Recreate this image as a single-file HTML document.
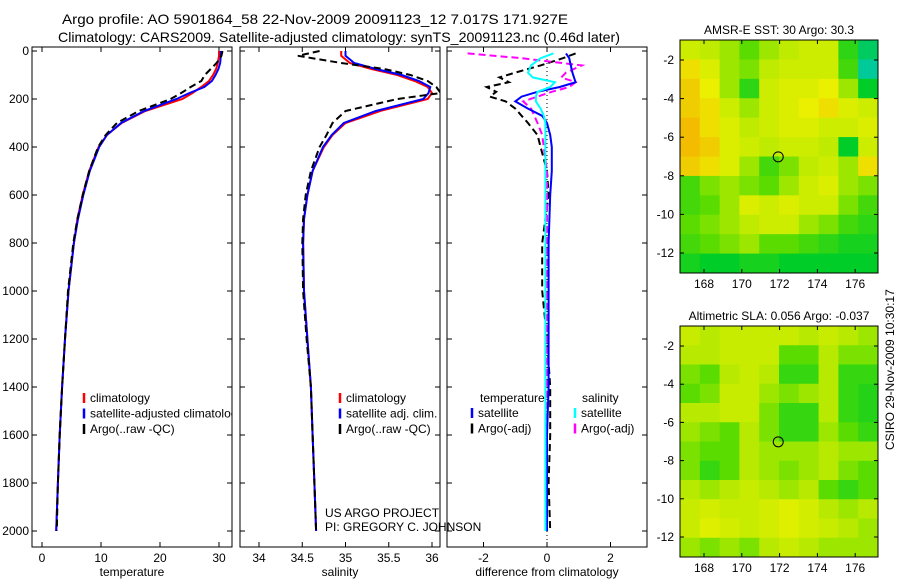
<!DOCTYPE html>
<html><head><meta charset="utf-8"><style>
body{margin:0;background:#fff;width:900px;height:580px;overflow:hidden;font-family:"Liberation Sans",sans-serif}
svg text{font-family:"Liberation Sans",sans-serif;font-size:12px;fill:#000}
</style></head><body>
<svg id="fig" width="900" height="580">
<text x="62" y="24" font-size="14" textLength="506" lengthAdjust="spacingAndGlyphs" style="font-size:14px">Argo profile: AO 5901864_58 22-Nov-2009 20091123_12 7.017S 171.927E</text>
<text x="58" y="42" font-size="14" textLength="562" lengthAdjust="spacingAndGlyphs" style="font-size:14px">Climatology: CARS2009. Satellite-adjusted climatology: synTS_20091123.nc (0.46d later)</text>
<g id="g"></g>
<text transform="translate(894,450) rotate(-90)" font-size="12">CSIRO 29-Nov-2009 10:30:17</text>
<text x="325" y="517">US ARGO PROJECT</text>
<text x="325" y="531">PI: GREGORY C. JOHNSON</text>
</svg>
<script>
// ---- data ----
const depths=[0,20,50,75,100,125,150,175,200,250,300,350,400,500,600,700,800,1000,1200,1400,1600,1800,2000];
const tempClim=[30,30,29.8,29.5,29,28.3,27,25.5,23.8,17.5,13.5,11.0,9.6,8.0,6.9,6.0,5.4,4.5,3.9,3.4,3,2.7,2.4];
const tempSat=[30.3,30.3,30.2,29.9,29.4,28.8,27.5,25,22.8,17.3,13.4,11.0,9.7,8.1,7.0,6.1,5.4,4.5,3.9,3.4,3,2.7,2.4];
const tempArgo=[30.6,30.4,29.6,28.6,27.6,27,25.2,23.6,21.8,16.4,12.7,10.8,9.5,8.0,6.9,6.0,5.3,4.4,3.9,3.4,3,2.7,2.5];
const salClim=[34.95,34.95,35.05,35.3,35.6,35.8,35.95,36.0,35.95,35.4,35.0,34.85,34.75,34.62,34.56,34.52,34.51,34.52,34.56,34.6,34.62,34.64,34.66];
const salSat=[35.0,35.0,35.1,35.35,35.65,35.85,35.98,35.96,35.9,35.35,34.98,34.84,34.74,34.62,34.56,34.52,34.51,34.52,34.56,34.6,34.62,34.64,34.66];
const salArgo=[34.7,34.45,34.95,35.45,35.75,35.95,36.05,36.1,35.6,35.0,34.85,34.78,34.7,34.6,34.54,34.51,34.5,34.51,34.55,34.6,34.62,34.64,34.66];
const dDepths=[10,30,60,90,110,130,150,170,190,210,240,270,300,350,400,450,500,600,800,1000,1200,1400,1600,1800,2000];
const dTempArgo=[0.9,0.5,-0.2,-1.0,-1.5,-1.2,-1.9,-1.6,-1.8,-1.3,-1.0,-0.8,-0.6,-0.3,-0.2,-0.1,0,0.05,-0.15,-0.15,0,0.1,0.1,0.05,0.1];
const dTempSat=[0.6,0.7,0.75,0.8,0.85,0.9,0.4,-0.3,-0.8,-1.0,-0.6,-0.15,0,0.1,0.15,0.15,0.15,0.1,0.05,0.05,0.05,0.05,0,0,0];
const dSalSat=[0.2,-0.2,-0.5,-0.6,-0.45,0.25,0.1,-0.3,-0.35,-0.35,-0.2,-0.1,-0.05,-0.05,-0.05,-0.05,-0.05,-0.05,-0.05,-0.05,-0.05,-0.05,-0.05,-0.05,-0.05];
const dSalArgo=[-2.5,-0.8,1.1,0.6,0.45,0.9,0.7,0.15,-0.3,-0.75,-0.5,-0.4,-0.3,-0.15,-0.1,-0.05,0,0,0,0,0,0,0,0,0];
const depthTicks=[0,200,400,600,800,1000,1200,1400,1600,1800,2000];
const tempTicks=[0,10,20,30];
const salTicks=[34,34.5,35,35.5,36];
const diffTicks=[-2,0,2];
const lonTicks=[168,170,172,174,176];
const latTicks=[-2,-4,-6,-8,-10,-12];
const sstGrid=[
[.7,.65,.6,.5,.6,.65,.7,.7,.4,.2],
[.85,.75,.6,.55,.65,.7,.7,.7,.45,.1],
[.9,.8,.6,.4,.7,.75,.75,.8,.6,.3],
[.9,.85,.7,.6,.7,.75,.8,.85,.75,.7],
[.95,.85,.75,.65,.7,.75,.75,.7,.7,.75],
[.95,.9,.75,.7,.65,.7,.7,.65,.3,.7],
[.9,.85,.75,.6,.45,.55,.65,.7,.6,.85],
[.45,.55,.6,.55,.5,.6,.7,.75,.6,.55],
[.45,.5,.6,.75,.7,.75,.7,.7,.55,.45],
[.5,.55,.6,.65,.7,.7,.6,.55,.45,.4],
[.45,.5,.55,.6,.5,.5,.45,.4,.35,.35],
[.35,.3,.3,.35,.35,.3,.3,.3,.3,.3]];
const slaGrid=[
[.68,.64,.68,.68,.68,.68,.64,.68,.64,.6],
[.64,.64,.68,.68,.68,.5,.5,.64,.55,.55],
[.55,.5,.64,.68,.64,.42,.42,.64,.42,.42],
[.5,.55,.68,.68,.6,.55,.6,.64,.42,.38],
[.64,.64,.68,.68,.55,.42,.42,.64,.42,.38],
[.6,.55,.5,.64,.55,.42,.42,.6,.5,.42],
[.55,.5,.5,.64,.6,.6,.6,.64,.6,.6],
[.55,.42,.5,.64,.6,.55,.6,.64,.55,.5],
[.64,.6,.64,.68,.64,.6,.64,.5,.42,.5],
[.68,.72,.68,.68,.72,.76,.72,.64,.6,.64],
[.68,.76,.72,.68,.72,.76,.72,.68,.64,.6],
[.6,.55,.6,.55,.64,.68,.64,.6,.6,.6]];
const argoLon=171.927, argoLat=-7.017;

// ---- drawing ----
const NS='http://www.w3.org/2000/svg', G=document.getElementById('g');
function el(t,a,p){const e=document.createElementNS(NS,t);for(const k in a)e.setAttribute(k,a[k]);(p||G).appendChild(e);return e;}
const yD=d=>51+d*0.24;
const xT=v=>42+v*5.9, xS=v=>259+(v-34)*86.5, xDf=v=>547+v*31.75;
function panel(x0,name,ticks,xf,fmt,xlabel,showY){
  const r=el('rect',{x:x0,y:47,width:200,height:500,fill:'#fff',stroke:'#000'});
  
  
  ticks.forEach(t=>{const x=xf(t);el('line',{x1:x,x2:x,y1:547,y2:542,stroke:'#000'});el('line',{x1:x,x2:x,y1:47,y2:52,stroke:'#000'});
    const tx=el('text',{x:x,y:562,'text-anchor':'middle'});tx.textContent=fmt(t);
    
    });
  depthTicks.forEach(d=>{const y=yD(d);el('line',{x1:x0,x2:x0+5,y1:y,y2:y,stroke:'#000'});el('line',{x1:x0+195,x2:x0+200,y1:y,y2:y,stroke:'#000'});
    if(showY){const tx=el('text',{x:x0-3,y:y+4,'text-anchor':'end'});tx.textContent=d;
    
    }});
  const xl=el('text',{x:x0+100,y:576,'text-anchor':'middle'});xl.textContent=xlabel;
  
  
}
function clip(id,x0){const c=el('clipPath',{id:id});el('rect',{x:x0,y:47,width:200,height:500},c);}
function line(xs,ds,xf,col,dash,w,name,cp){
  const pts=xs.map((v,i)=>xf(v).toFixed(1)+','+yD(ds[i]).toFixed(1)).join(' ');
  const p=el('polyline',{points:pts,fill:'none',stroke:col,'stroke-width':w,'clip-path':'url(#'+cp+')'});
  if(dash)p.setAttribute('stroke-dasharray',dash);
  
  
}
function legend(x,y,items,cp){items.forEach((it,i)=>{const yy=y+i*15.5;
  el('line',{x1:x,x2:x,y1:yy-9,y2:yy+1,stroke:it[1],'stroke-width':2.5});
  const t=el('text',{x:x+6,y:yy,'clip-path':'url(#'+cp+')'});t.textContent=it[0];
  
  });}

panel(32,'temperature',tempTicks,xT,t=>t,'temperature',true);
panel(240,'salinity',salTicks,xS,t=>t,'salinity',false);
panel(447,'difference',diffTicks,xDf,t=>t,'difference from climatology',false);
clip('c1',32);clip('c2',240);clip('c3',447);
line(tempClim,depths,xT,'#f00',null,2,'temp-climatology-line','c1');
line(tempSat,depths,xT,'#00f',null,2,'temp-satellite-line','c1');
line(tempArgo,depths,xT,'#000','7,4',2,'temp-argo-line','c1');
line(salClim,depths,xS,'#f00',null,2,'sal-climatology-line','c2');
line(salSat,depths,xS,'#00f',null,2,'sal-satellite-line','c2');
line(salArgo,depths,xS,'#000','7,4',2,'sal-argo-line','c2');
const z=el('line',{x1:xDf(0),x2:xDf(0),y1:47,y2:547,stroke:'#000','stroke-dasharray':'1,3'});


line(dTempArgo,dDepths,xDf,'#000','7,4',2,'diff-temp-argo-line','c3');
line(dSalArgo,dDepths,xDf,'#f0f','7,4',2,'diff-sal-argo-line','c3');
line(dTempSat,dDepths,xDf,'#00f',null,2,'diff-temp-satellite-line','c3');
line(dSalSat,dDepths,xDf,'#0ff',null,2,'diff-sal-satellite-line','c3');
legend(84,402,[['climatology','#f00'],['satellite-adjusted climatology','#00f'],['Argo(..raw -QC)','#000']],'c1');
legend(340,402,[['climatology','#f00'],['satellite adj. clim.','#00f'],['Argo(..raw -QC)','#000']],'c2');
const lt=el('text',{x:480,y:402});lt.textContent='temperature';


const ls=el('text',{x:582,y:402});ls.textContent='salinity';


legend(472,417,[['satellite','#00f'],['Argo(-adj)','#000']],'c3');
legend(575,417,[['satellite','#0ff'],['Argo(-adj)','#f0f']],'c3');

function cmap(v){const stops=[[0,[0,200,210]],[.3,[0,205,40]],[.5,[90,220,0]],[.65,[190,235,0]],[.8,[235,240,0]],[1,[245,170,0]]];
  for(let i=1;i<stops.length;i++){if(v<=stops[i][0]){const a=stops[i-1],b=stops[i],f=(v-a[0])/(b[0]-a[0]);
    return 'rgb('+a[1].map((c,k)=>Math.round(c+(b[1][k]-c)*f)).join(',')+')';}}return 'rgb(245,170,0)';}
function map(y0,y1,latTop,latPx,grid,name,title){
  const x0=680,x1=878,lonX=l=>704+(l-168)*18.9,latY=l=>latTop+(-2-l)*latPx;
  const rows=grid.length,cols=grid[0].length,cw=(x1-x0)/cols,ch=(y1-y0)/rows;
  grid.forEach((row,r)=>row.forEach((v,c)=>{const cell=el('rect',{x:x0+c*cw,y:y0+r*ch,width:cw+0.5,height:ch+0.5,fill:cmap(v)});
    
    }));
  const b=el('rect',{x:x0,y:y0,width:x1-x0,height:y1-y0,fill:'none',stroke:'#000'});
  
  
  lonTicks.forEach(l=>{const x=lonX(l);el('line',{x1:x,x2:x,y1:y1,y2:y1-4,stroke:'#000'});el('line',{x1:x,x2:x,y1:y0,y2:y0+4,stroke:'#000'});
    const t=el('text',{x:x,y:y1+15,'text-anchor':'middle'});t.textContent=l;
    
    });
  latTicks.forEach(l=>{const y=latY(l);el('line',{x1:x0,x2:x0+4,y1:y,y2:y,stroke:'#000'});el('line',{x1:x1,x2:x1-4,y1:y,y2:y,stroke:'#000'});
    const t=el('text',{x:x0-6,y:y+4,'text-anchor':'end'});t.textContent=l;
    
    });
  const m=el('circle',{cx:lonX(argoLon),cy:latY(argoLat),r:5,fill:'none',stroke:'#000'});
  
  
  const t=el('text',{x:(x0+x1)/2,y:y0-6,'text-anchor':'middle'});t.textContent=title;
  
  
}
map(40,273,60,19.3,sstGrid,'sst-map','AMSR-E SST: 30 Argo: 30.3');
map(326,557,346,19.1,slaGrid,'sla-map','Altimetric SLA: 0.056 Argo: -0.037');
</script>
</body></html>
